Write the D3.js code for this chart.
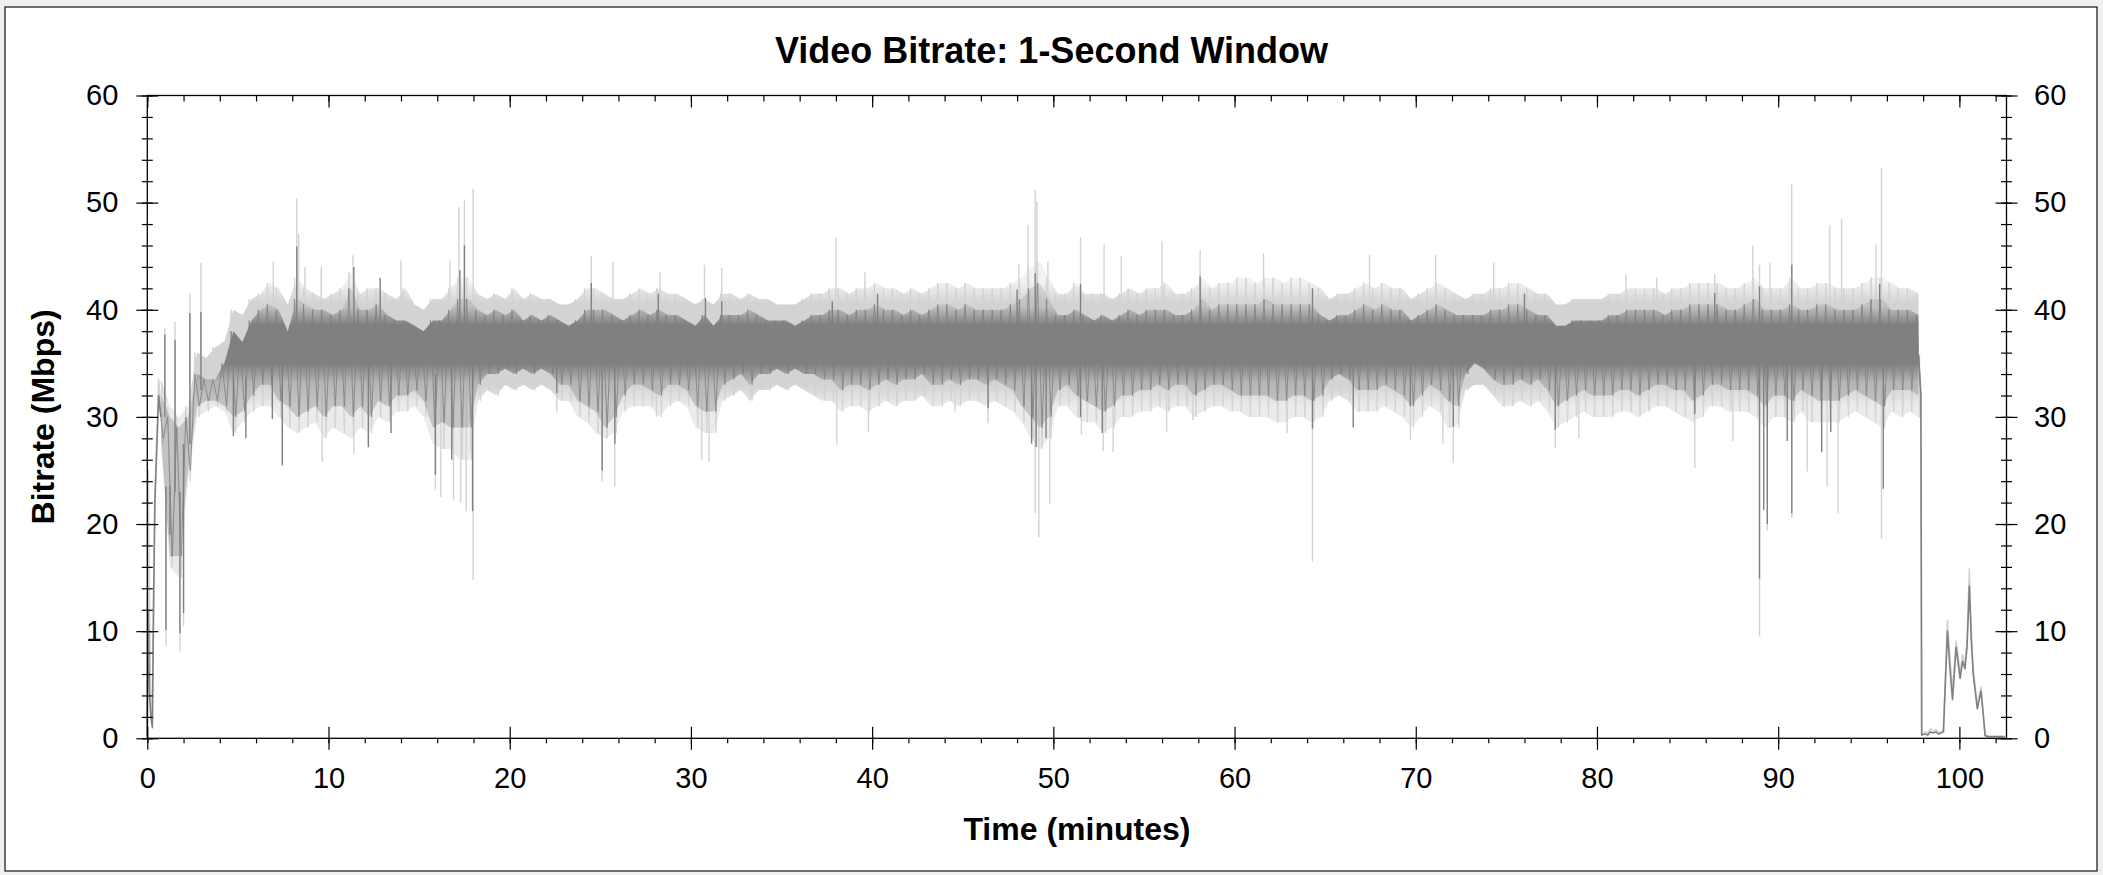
<!DOCTYPE html>
<html><head><meta charset="utf-8">
<script src="https://cdn.jsdelivr.net/npm/d3@7"></script>
<style>body{margin:0;background:#f0f0f0;}svg{display:block;}</style>
</head><body>
<svg id="chart" width="2103" height="875"></svg>
<script>
// ---- data (minutes, Mbps) ----
const binStart = 0.5, binWidth = 0.5;   // half-minute bins from 0.5 to 97.9 min
const darkLo = [28,17,17,25,31,31.5,31.5,31,30,30.5,
32,33,33,31.5,31,30,30.5,31,30,31,
31,30,31,30,31.5,31,32,32,32.5,31.5,
29,29.5,29,29,29,33,34,34,34.5,34,
34.5,34,34.5,34,33,33,31.5,31,30.5,29,
30,32,33,33,32.5,32,33,33,32.5,31,
30.5,30.5,33,33.5,34,33,34,34,34.5,34,
34.5,34,34,33.5,33.5,32.5,33,33,32.5,33,
33.5,33,33.5,33.5,34,33,33,33.5,33,33.5,
33.5,33,33.5,33,32.5,31,30,29,30,32.5,
33,32,31.5,31,30.5,31,32,32,32.5,32.5,
33,32.5,33,33,32,32.5,33,33,32.5,32,
32,32,32,31.5,31.5,32,32,31.5,32,33.5,
34,33.5,32.5,32.5,32.5,33,32.5,32,31,32,
33,32.5,31.5,31,34,35,34.5,33.5,33,33,
33.5,33,33.5,32.5,31,31.5,32,32.5,32,32,
32,32.5,32.5,32,32.5,33,33,32.5,32.5,31.5,
32,33,33,32.5,32.5,32.5,32,31,32,32,
31.5,32.5,32,31.5,31.5,31.5,32,32.5,32,31.5,
31,32.5,32.5,32.5,32];
const darkHi = [32,30,29,30,34,33.5,33.5,35,38,37,
39,40,40.5,40,38,41,40.5,40,40,39.5,
40,42,40,40,40.5,39.5,39,39,38.5,38,
39,39,40,41,41,40,39.5,40,39.5,40,
39,39.5,39,39.5,39,38.5,39,40,40,40,
39.5,39,39.5,40,39.5,40,39.5,39.5,39,38.5,
39.5,38.5,39.5,39.5,39.5,40,39.5,39,39,39,
38.5,39,39.5,39.5,40,40,39.5,40,40,40.5,
40,40,39.5,40,39.5,40,40.5,40.5,40,40.5,
40,40,40,40,40.5,41,42,42.5,41,39.5,
39.5,40,39.5,39,39.5,39,39.5,40,39.5,40,
40,40,39.5,39.5,40,41,40,40.5,40.5,40.5,
40.5,40.5,41,40.5,40.5,40.5,40.5,40.5,39.5,39,
39.5,39.5,40,40.5,40,40.5,40,40,39,39.5,
40,40.5,40,39.5,39.5,39.5,39.5,40,40,40.5,
40.5,40,39.5,39.5,38.5,38.5,39,39,39,39,
39.5,39.5,40,40,40,40,39.5,40,40,40.5,
40.5,40.5,40.5,40,40,40.5,41,40,40,40,
40.5,40,40,40.5,40.5,40,40,40,40.5,41,
41,40,40,40,39.5];
const lightLo = [27.5,16,15,24,30,30.5,31,30.5,28.5,29.5,
30.5,31,31,30,29,28.5,29,29.5,28,29,
28.5,28,29,28.5,30,29.5,30.5,30.5,31,30,
27.5,27,27,26,26,31.5,32.5,32,33,32.5,
33,32.5,33,32.5,31.5,31.5,30,29.5,28.5,28,
28.5,30.5,31,31,31,30,31,31.5,31,29,
28.5,28.5,31.5,32,32.5,31.5,32.5,32.5,33,32.5,
33,32.5,32,31.5,31.5,30.5,31,31,30.5,31,
31.5,31,31.5,31.5,32,31,31,31.5,31,31.5,
31.5,31,31.5,31,30.5,29.5,28,27,28,31,
31,30,29.5,29.5,28.5,29,30,30,30.5,30.5,
31,30.5,31,31,30,30.5,31,31,30.5,30.5,
30,30,30,29.5,29.5,30,30,29.5,30,31.5,
32,31.5,30.5,30.5,30.5,31,30.5,30,29,30,
31,30.5,29,29,32.5,33,33,32,31,31,
31.5,31,31.5,30.5,29,29.5,30,30.5,30,30,
30,30.5,30.5,30,30.5,31,31,30.5,30,29.5,
30,31,31,30.5,30.5,30.5,30,29,30,30,
29.5,30.5,29.5,29.5,29.5,29.5,30,30.5,30,29.5,
29,30.5,30,30.5,30];
const lightHi = [33.5,31,30,31,36,35.5,36.5,37,40,39.5,
41,41.5,42.5,42,40.5,43,42,41.5,41,41.5,
42,43.5,41.5,42,42,41.5,41,42,40.5,40,
41,41,42,43,43,41.5,41,41.5,41,42,
41,41.5,41,41,40.5,40.5,41,42,42,41.5,
41,41,41.5,42,41.5,42,41.5,41.5,41,40.5,
41,40.5,41.5,41.5,41,41.5,41,41,40.5,40.5,
40.5,41,41.5,41.5,42,42,41.5,42,42,42.5,
42,42,41.5,42,41.5,42,42.5,42.5,42,42.5,
42,42,42,42,42.5,43,44,44.5,43,41.5,
41.5,42.5,41.5,41.5,41.5,41,41.5,42,41.5,42,
42,42.5,41.5,41.5,42,43,42,42.5,42.5,43,
43,42.5,43,43,42.5,43,43,42.5,42,41,
41.5,41.5,42,42.5,42,42.5,42,42,41,41.5,
42,42.5,42,41.5,41,41.5,41.5,42,42,42.5,
42.5,42,41.5,41.5,40.5,40.5,41,41,41,41,
41.5,41.5,42,42,42,42,41.5,42,42,42.5,
42.5,42.5,42.5,42,42,42.5,43,42,42,42,
43,42,42,42.5,42.5,42,42,42,42.5,43,
43,42.5,42,42,41.5];

// start-up ramp and end credits
const headMinutes = [0,0.05,0.12,0.2,0.28,0.35,0.42];
const headDark    = [0.2,12,4,2,1,13,22];
const headLight   = [0.3,25,12,3,1.5,14,23];
const tailMinutes = [97.92,98.1,98.25,98.4,98.55,98.7,98.85,99.0,99.12,99.34,99.48,99.62,99.82,100.04,100.18,100.31,100.42,100.55,100.66,100.77,100.99,101.19,101.3,101.42,101.6,102.0,102.5];
const tailDark    = [0.3,0.4,0.3,0.6,0.5,0.6,0.4,0.5,0.6,10,6.5,3.6,8.5,5.6,7.2,6.5,8.5,14.2,9,5.9,2.75,4.4,2.5,0.25,0.15,0.15,0.15];
const tailLight   = [0.3,0.6,0.5,0.9,0.7,0.8,0.6,0.6,0.8,11,7.5,4.4,9.1,6.2,7.8,7,9,15.8,10,6.3,3.2,4.8,2.8,0.3,0.2,0.2,0.2];

// isolated single-second peaks / drops
const lightSpikeMin = [0.97,1.03,1.53,1.8,2.0,2.35,2.96,6.95,7.45,8.25,8.35,8.7,9.6,9.65,11.35,11.4,12.2,14.0,15.9,16.2,16.7,16.9,17.2,17.3,17.5,17.6,17.98,17.98,
22.6,24.5,25.1,25.7,25.8,28.1,28.3,30.6,30.75,31.0,31.7,33.25,38.0,38.05,39.6,39.8,44.57,46.4,48.1,48.6,49.0,49.0,49.1,49.2,49.7,49.8,51.5,51.55,52.75,52.8,53.3,53.75,
56.0,56.25,57.7,58.1,61.6,62.9,64.3,67.45,69.7,71.1,71.5,72.07,74.3,77.7,79.0,81.6,83.3,85.4,86.5,87.5,88.6,88.97,88.97,89.4,89.55,90.75,90.75,91.6,92.7,92.85,93.3,93.5,95.4,95.7,95.7,97.8];
const lightSpikeVal = [38.3,8.6,38.9,8.1,10.5,41.5,44.4,44.5,25.4,50.4,47.1,44,44,25.8,45.1,26.5,27.1,44.6,23.2,22.5,44.6,22.3,49.6,22,50.3,21.2,51.3,14.8,
30.5,45,24,44.5,23.5,30,43.5,26,44.2,25.8,43.9,31.6,46.7,27.4,43.5,28.6,30.5,29.4,44.3,47.9,51.2,21,50.1,18.8,44.5,21.9,46.8,28.3,26.8,46.1,26.7,45,
46.4,28.6,29.7,45.6,45.3,28.5,16.5,45.1,27.9,45.1,27.5,25.7,44.4,27.1,28,43.3,43,25.2,43.3,27.75,46,44.2,9.5,19.4,44.4,51.7,20.6,24.9,23.5,47.9,21,48.5,46.1,53.2,18.6,29.9];
const darkSpikeMin = [0.97,1.03,1.25,1.53,1.8,2.0,2.35,2.96,4.75,5.44,6.9,7.45,8.25,11.4,12.2,12.85,13.45,15.9,16.8,17.25,17.5,17.95,
22.6,24.5,25.1,25.8,28.2,30.8,31.7,37.8,40.3,46.4,48.0,48.8,49.0,49.05,49.6,51.5,51.5,52.7,58.1,64.3,64.3,66.55,69.7,72.07,76.0,77.7,85.4,86.5,
88.97,88.97,89.2,89.4,90.5,90.75,90.75,92.4,92.9,95.6,95.8];
const darkSpikeVal = [37.7,10.1,19,37.2,9.8,11.7,39.7,39.8,28.2,28,29.8,25.5,45.9,44,27.2,43,28.5,24.6,26,43.7,46,21.2,
32.2,42.5,25,27.5,41.5,41.1,40.8,40.8,41.5,30.8,41.9,27.5,43.4,27.2,28,42.4,30,28.5,43.1,42,28.9,29,31,29.1,41.5,28.8,30.3,41.6,
42.2,14.9,21.3,20,27.75,44.2,21,26.7,28.6,42.4,23.3];

const xTickValues = [0,10,20,30,40,50,60,70,80,90,100];
const yTickValues = [0,10,20,30,40,50,60];
const xMinorValues = d3.range(0, 103, 2);
const yMinorValues = d3.range(0, 61, 2);

// ---- layout ----
const L = 147.3, R = 2006.5, T = 95.5, B = 738.3;
const svg = d3.select('#chart');
const FONT = '"Liberation Sans", Arial, sans-serif';

svg.append('rect').attr('x',5).attr('y',7).attr('width',2092).attr('height',864)
  .attr('fill','#fff').attr('stroke','#222').attr('stroke-width',1.3);

const x = d3.scaleLinear().domain([0, 102.6]).range([L, R]);
const y = d3.scaleLinear().domain([0, 60]).range([B, T]);

// density shading of the dense 1-second trace (value level -> opacity)
const defs = svg.append('defs');
function densityGradient(id, color, stops) {
  const g = defs.append('linearGradient').attr('id', id).attr('gradientUnits', 'userSpaceOnUse')
    .attr('x1', 0).attr('x2', 0).attr('y1', y(60)).attr('y2', y(0));
  stops.forEach(([v, o]) => g.append('stop').attr('offset', (60 - v) / 60).attr('stop-color', color).attr('stop-opacity', o));
}
densityGradient('gDark', '#808080', [[60,0.22],[40.3,0.22],[38.6,1],[35,1],[33.2,0.35],[0,0.45]]);
densityGradient('gLight', '#d3d3d3', [[60,0.3],[42.6,0.3],[40.6,1],[33,1],[31,0.45],[0,0.55]]);

const binCenter = i => binStart + binWidth * (i + 0.5);
const n = darkLo.length;

function zigzag(lo, hi) {
  const pts = [];
  lo.forEach((v, i) => { const c = binCenter(i); pts.push([c - binWidth / 4, hi[i]], [c + binWidth / 4, v]); });
  return pts;
}
function edgeLine(lo, hi, hm, hv) {
  const pts = hm.map((m, i) => [m, hv[i]]);
  pts.push([binCenter(0) - binWidth / 4, hi[0]], [binCenter(0), (lo[0] + hi[0]) / 2]);
  return pts;
}
function tailLine(lo, hi, tm, tv) {
  const pts = [[binCenter(n - 1), (lo[n - 1] + hi[n - 1]) / 2], [binCenter(n - 1) + binWidth / 4, lo[n - 1]]];
  tm.forEach((m, i) => pts.push([m, tv[i]]));
  return pts;
}
function bandMid(lo, hi, t) {
  const i = Math.max(0, Math.min(n - 1, Math.floor((t - binStart) / binWidth)));
  return (lo[i] + hi[i]) / 2;
}

const plot = svg.append('g');
const line = d3.line().x(d => x(d[0])).y(d => y(d[1]));
const area = d3.area().x(d => x(d.t)).y0(d => y(d.lo)).y1(d => y(d.hi));

function drawSeries(lo, hi, hv, tv, spikeMin, spikeVal, color, grad, zw) {
  const band = lo.map((v, i) => ({t: binCenter(i), lo: v, hi: hi[i]}));
  plot.append('path').datum(band).attr('d', area).attr('fill', `url(#${grad})`);
  plot.append('path').datum(zigzag(lo, hi)).attr('d', line)
    .attr('fill','none').attr('stroke', color).attr('stroke-width', zw).attr('stroke-linejoin','bevel');
  plot.append('path').datum(edgeLine(lo, hi, headMinutes, hv)).attr('d', line)
    .attr('fill','none').attr('stroke', color).attr('stroke-width', 1.6).attr('stroke-linejoin','round');
  plot.append('path').datum(tailLine(lo, hi, tailMinutes, tv)).attr('d', line)
    .attr('fill','none').attr('stroke', color).attr('stroke-width', 1.6).attr('stroke-linejoin','round');
  plot.append('g').selectAll('line').data(spikeMin.map((m, i) => [m, spikeVal[i]])).enter().append('line')
    .attr('x1', d => x(d[0])).attr('x2', d => x(d[0]))
    .attr('y1', d => y(bandMid(lo, hi, d[0]))).attr('y2', d => y(d[1]))
    .attr('stroke', color).attr('stroke-width', 1.4);
}
drawSeries(lightLo, lightHi, headLight, tailLight, lightSpikeMin, lightSpikeVal, '#d3d3d3', 'gLight', 1);
drawSeries(darkLo, darkHi, headDark, tailDark, darkSpikeMin, darkSpikeVal, '#808080', 'gDark', 0.8);

// ---- axes ----
function styleAxis(g, labels) {
  g.select('.domain').remove();
  g.selectAll('line').attr('stroke','#000').attr('stroke-width',1.2);
  g.selectAll('text').attr('font-family', FONT).attr('font-size', 29).attr('fill', '#000');
  if (!labels) g.selectAll('text').remove();
}
const fmt = d3.format('d');
// left
svg.append('g').attr('transform',`translate(${L},0)`)
  .call(d3.axisLeft(y).tickValues(yTickValues).tickSize(11).tickPadding(18).tickFormat(fmt)).call(g => styleAxis(g, true));
svg.append('g').attr('transform',`translate(${L},0)`)
  .call(d3.axisRight(y).tickValues(yTickValues).tickSize(11)).call(g => styleAxis(g, false));
svg.append('g').attr('transform',`translate(${L},0)`)
  .call(d3.axisLeft(y).tickValues(yMinorValues).tickSize(5.5)).call(g => styleAxis(g, false));
svg.append('g').attr('transform',`translate(${L},0)`)
  .call(d3.axisRight(y).tickValues(yMinorValues).tickSize(5.5)).call(g => styleAxis(g, false));
// right
svg.append('g').attr('transform',`translate(${R},0)`)
  .call(d3.axisRight(y).tickValues(yTickValues).tickSize(11).tickPadding(16.5).tickFormat(fmt)).call(g => styleAxis(g, true));
svg.append('g').attr('transform',`translate(${R},0)`)
  .call(d3.axisLeft(y).tickValues(yTickValues).tickSize(11)).call(g => styleAxis(g, false));
svg.append('g').attr('transform',`translate(${R},0)`)
  .call(d3.axisRight(y).tickValues(yMinorValues).tickSize(5.5)).call(g => styleAxis(g, false));
svg.append('g').attr('transform',`translate(${R},0)`)
  .call(d3.axisLeft(y).tickValues(yMinorValues).tickSize(5.5)).call(g => styleAxis(g, false));
// bottom
svg.append('g').attr('transform',`translate(0,${B})`)
  .call(d3.axisBottom(x).tickValues(xTickValues).tickSize(11.5).tickPadding(18).tickFormat(fmt)).call(g => styleAxis(g, true));
svg.append('g').attr('transform',`translate(0,${B})`)
  .call(d3.axisTop(x).tickValues(xTickValues).tickSize(11.5)).call(g => styleAxis(g, false));
svg.append('g').attr('transform',`translate(0,${B})`)
  .call(d3.axisBottom(x).tickValues(xMinorValues).tickSize(5)).call(g => styleAxis(g, false));
// top (inward ticks)
svg.append('g').attr('transform',`translate(0,${T})`)
  .call(d3.axisBottom(x).tickValues(xTickValues).tickSize(12)).call(g => styleAxis(g, false));
svg.append('g').attr('transform',`translate(0,${T})`)
  .call(d3.axisBottom(x).tickValues(xMinorValues).tickSize(6)).call(g => styleAxis(g, false));

// frame
svg.append('rect').attr('x', L).attr('y', T).attr('width', R - L).attr('height', B - T)
  .attr('fill','none').attr('stroke','#000').attr('stroke-width',1.3);

// ---- titles ----
svg.append('text').attr('x', 1051.5).attr('y', 63).attr('text-anchor','middle')
  .attr('font-family', FONT).attr('font-weight','bold').attr('font-size', 36).text('Video Bitrate: 1-Second Window');
svg.append('text').attr('x', (L + R) / 2).attr('y', 840).attr('text-anchor','middle')
  .attr('font-family', FONT).attr('font-weight','bold').attr('font-size', 32).text('Time (minutes)');
svg.append('text').attr('transform', `translate(54,${(T + B) / 2}) rotate(-90)`).attr('text-anchor','middle')
  .attr('font-family', FONT).attr('font-weight','bold').attr('font-size', 32).text('Bitrate (Mbps)');
</script>
</body></html>
